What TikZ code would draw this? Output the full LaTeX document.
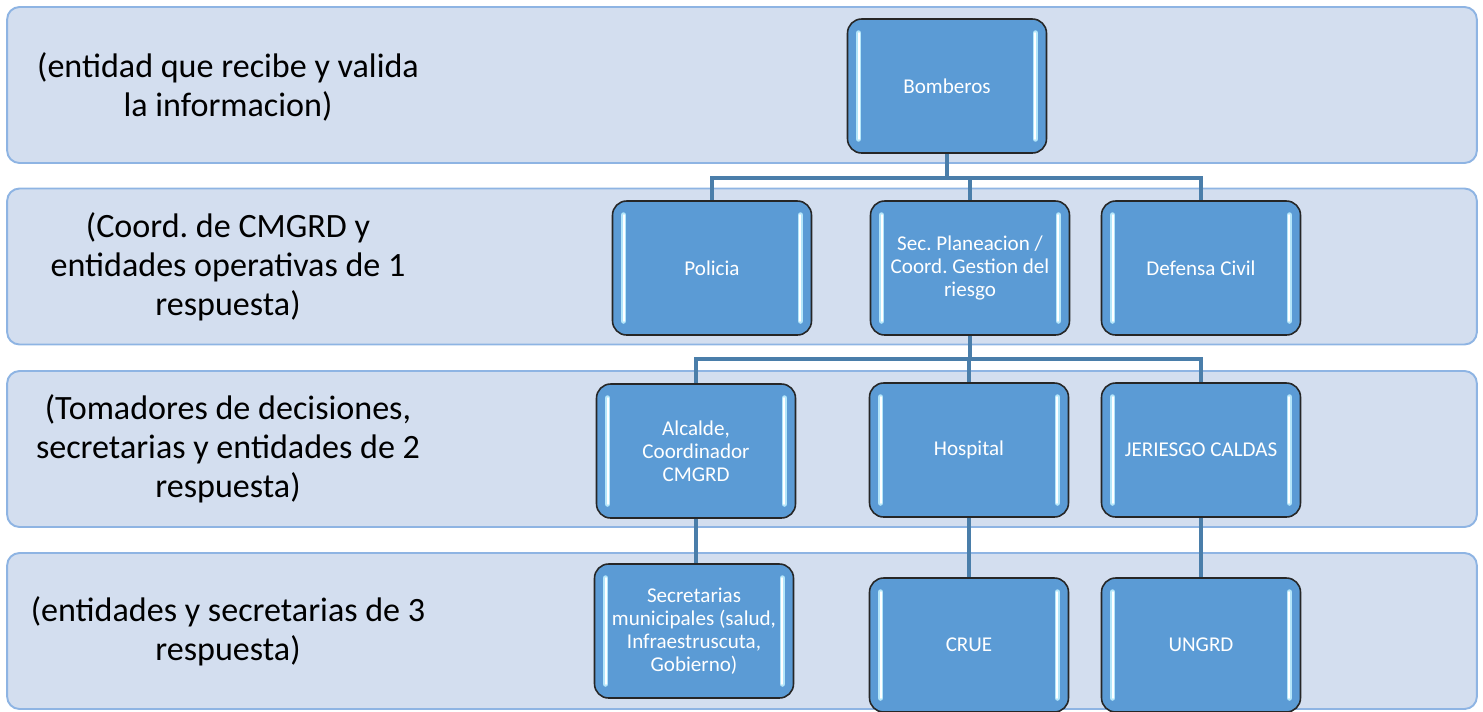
\documentclass[tikz,border=0pt]{standalone}
\usepackage{fontspec}
\setmainfont{Carlito}
\usepackage{tikz}
\usetikzlibrary{positioning}

\definecolor{bandfill}{HTML}{D3DEEF}
\definecolor{bandline}{HTML}{8EB4E3}
\definecolor{boxfill}{HTML}{5B9BD5}
\definecolor{boxline}{HTML}{262626}
\definecolor{glowblue}{HTML}{B4E6FA}
\definecolor{linkblue}{HTML}{4A7EAA}

\frenchspacing

\begin{document}
\begin{tikzpicture}[x=0.02cm, y=-0.02cm,
  band/.style={rectangle, rounded corners=7pt, draw=bandline, line width=1.1pt, fill=bandfill,
    minimum width=29.4cm, minimum height=3.12cm},
  bandtext/.style={align=center, text=black, font=\fontsize{19.4pt}{22.2pt}\selectfont},
  entity/.style={rectangle, rounded corners=8pt, draw=boxline, line width=0.9pt, fill=boxfill,
    minimum width=3.98cm, minimum height=2.68cm, align=center, text=white,
    font=\fontsize{12pt}{13.2pt}\selectfont,
    path picture={
      \draw[glowblue, line width=3.2pt, line cap=round]
        ([xshift=6.3pt,yshift=-8pt]path picture bounding box.north west) --
        ([xshift=6.3pt,yshift=8pt]path picture bounding box.south west);
      \draw[glowblue, line width=3.2pt, line cap=round]
        ([xshift=-6.3pt,yshift=-8pt]path picture bounding box.north east) --
        ([xshift=-6.3pt,yshift=8pt]path picture bounding box.south east);
      \draw[white, line width=1.2pt, line cap=round]
        ([xshift=6.3pt,yshift=-8pt]path picture bounding box.north west) --
        ([xshift=6.3pt,yshift=8pt]path picture bounding box.south west);
      \draw[white, line width=1.2pt, line cap=round]
        ([xshift=-6.3pt,yshift=-8pt]path picture bounding box.north east) --
        ([xshift=-6.3pt,yshift=8pt]path picture bounding box.south east);
    }},
  link/.style={draw=linkblue, line width=2pt}]

\useasboundingbox (0,0) rectangle (1483,711);

% bandas de niveles
\node (b1) at (742,85) [band]{};
\node (b2) at (742,266.5) [band]{};
\node (b3) at (742,449) [band]{};
\node (b4) at (742,631) [band]{};

\node (t1) at (228,87) [bandtext]{(entidad que recibe y valida\\la informacion)};
\node (t2) at (228,267) [bandtext]{(Coord. de CMGRD y\\entidades operativas de 1\\respuesta)};
\node (t3) at (228,449) [bandtext]{(Tomadores de decisiones,\\secretarias y entidades de 2\\respuesta)};
\node (t4) at (228,631) [bandtext]{(entidades y secretarias de 3\\respuesta)};

% entidades
\node (bomb) at (947,86) [entity]{Bomberos};

\node (pol) at (712,268) [entity]{Policia};
\node (sec) at (970,268) [entity]{Sec. Planeacion /\\Coord. Gestion del\\riesgo};
\node (def) at (1201,268) [entity]{Defensa Civil};

\node (alc) at (696,451) [entity]{Alcalde,\\Coordinador\\CMGRD};
\node (hos) at (969,450) [entity]{Hospital};
\node (jer) at (1201,450) [entity]{JERIESGO CALDAS};

\node (secm) at (694,631) [entity]{Secretarias\\municipales (salud,\\Infraestruscuta,\\Gobierno)};
\node (crue) at (969,645) [entity]{CRUE};
\node (ung) at (1201,645) [entity]{UNGRD};

\coordinate (j1) at (947,178);
\coordinate (j2) at (970,359);

\draw [link] (bomb.south) -- (j1);
\draw [link] (pol.north) |- (def.north |- j1) -- (def.north);
\draw [link] (sec.north) -- (sec.north |- j1);

\draw [link] (sec.south) -- (j2);
\draw [link] (alc.north) |- (jer.north |- j2) -- (jer.north);
\draw [link] (hos.north) -- (hos.north |- j2);

\draw [link] (alc.south) -- (alc.south |- secm.north);
\draw [link] (hos.south) -- (crue.north);
\draw [link] (jer.south) -- (ung.north);

\end{tikzpicture}
\end{document}
